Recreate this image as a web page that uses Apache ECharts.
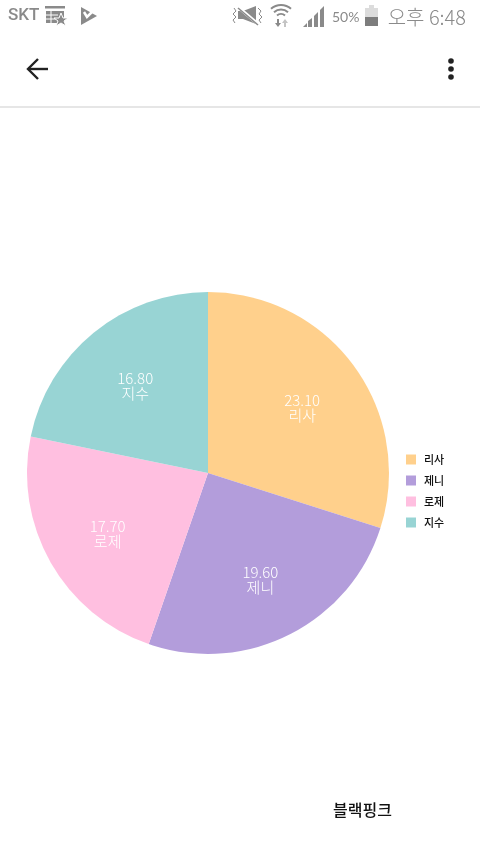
<!DOCTYPE html>
<html><head><meta charset="utf-8">
<style>html,body{margin:0;padding:0;background:#fff}#c{width:480px;height:853px}</style>
<script src="https://cdn.jsdelivr.net/npm/echarts@6/dist/echarts.min.js"></script></head>
<body><div id="c"></div>
<script>
const categories = ['리사','제니','로제','지수'];
const values = [23.10,19.60,17.70,16.80];
const colors = ['#FFD08C','#B39DDB','#FFBFE0','#98D4D4'];
const titleText = '블랙핑크';
const statusLeft = 'SKT';
const statusBattery = '50%';
const statusTime = '오후 6:48';
const gray = '#8a8a8a';
const pieData = categories.map((n,i)=>({name:n,value:values[i],itemStyle:{color:colors[i]}}));
const kr = '"Noto Sans CJK KR"';
const chart = echarts.init(document.getElementById('c'),null,{renderer:'canvas'});
const icon = [
 // status bar: calendar
 {type:'rect',shape:{x:45,y:6,width:20,height:2.5},style:{fill:gray}},
 {type:'rect',shape:{x:46,y:11,width:18,height:12},style:{fill:gray}},
 {type:'line',shape:{x1:46,y1:15,x2:58,y2:15},style:{stroke:'#fff',lineWidth:1}},
 {type:'line',shape:{x1:46,y1:19,x2:56,y2:19},style:{stroke:'#fff',lineWidth:1}},
 {type:'line',shape:{x1:51,y1:11,x2:51,y2:23},style:{stroke:'#fff',lineWidth:1}},
 {type:'polygon',shape:{points:[[61,13],[63,18],[68,18],[64,21],[66,26],[61,23],[56,26],[58,21],[54,18],[59,18]]},style:{fill:gray,stroke:'#fff',lineWidth:1}},
 // flag with check
 {type:'polygon',shape:{points:[[81,7],[97,16],[81,25]]},style:{fill:gray}},
 {type:'polyline',shape:{points:[[84,12],[87,17],[96,8]]},style:{stroke:'#fff',lineWidth:2.5,fill:'none'}},
 // muted speaker
 {type:'polyline',shape:{points:[[234,8],[236,11],[233,14],[236,17],[233,20],[235,23]]},style:{stroke:gray,lineWidth:1,fill:'none'}},
 {type:'polygon',shape:{points:[[238,11],[243,11],[256,6],[256,24],[243,19],[238,19]]},style:{fill:gray}},
 {type:'line',shape:{x1:238,y1:7,x2:258,y2:24},style:{stroke:'#fff',lineWidth:3}},
 {type:'line',shape:{x1:238,y1:8,x2:258,y2:25},style:{stroke:gray,lineWidth:1.5}},
 {type:'polyline',shape:{points:[[258,8],[261,11],[259,14],[262,17],[259,20],[261,23]]},style:{stroke:gray,lineWidth:1,fill:'none'}},
 // wifi
 {type:'arc',shape:{cx:281,cy:20,r:15,startAngle:-2.3,endAngle:-0.84},style:{stroke:gray,lineWidth:2,fill:'none'}},
 {type:'arc',shape:{cx:281,cy:20,r:10.5,startAngle:-2.3,endAngle:-0.84},style:{stroke:gray,lineWidth:2,fill:'none'}},
 {type:'arc',shape:{cx:281,cy:20,r:6,startAngle:-2.3,endAngle:-0.84},style:{stroke:gray,lineWidth:2,fill:'none'}},
 {type:'polygon',shape:{points:[[277,19],[279,19],[279,23],[281,23],[278,27],[275,23],[277,23]]},style:{fill:gray}},
 {type:'polygon',shape:{points:[[285,19],[288,23],[286,23],[286,27],[284,27],[284,23],[282,23]]},style:{fill:'#c4c4c4'}},
 // signal
 {type:'polygon',shape:{points:[[303,27],[307,23],[307,27]]},style:{fill:gray}},
 {type:'polygon',shape:{points:[[308,27],[308,21],[312,18],[312,27]]},style:{fill:gray}},
 {type:'polygon',shape:{points:[[314,27],[314,16],[318,12],[318,27]]},style:{fill:gray}},
 {type:'polygon',shape:{points:[[320,27],[320,10],[324,6],[324,27]]},style:{fill:gray}},
 // battery
 {type:'rect',shape:{x:365,y:8,width:13,height:18},style:{fill:'#dcdcdc'}},
 {type:'rect',shape:{x:369,y:5,width:5,height:3},style:{fill:'#dcdcdc'}},
 {type:'rect',shape:{x:365,y:17,width:13,height:9},style:{fill:'#7d7d7d'}},
 // back arrow
 {type:'polyline',shape:{points:[[38,59],[28,69],[38,79]]},style:{stroke:'#222',lineWidth:2.4,fill:'none'}},
 {type:'line',shape:{x1:28,y1:69,x2:48,y2:69},style:{stroke:'#222',lineWidth:2.4}},
 // dots
 {type:'circle',shape:{cx:451,cy:61,r:2.8},style:{fill:'#222'}},
 {type:'circle',shape:{cx:451,cy:69,r:2.8},style:{fill:'#222'}},
 {type:'circle',shape:{cx:451,cy:77,r:2.8},style:{fill:'#222'}},
 // divider
 {type:'rect',shape:{x:0,y:106,width:480,height:2},style:{fill:'#e6e6e6'}},
 // status text
 {type:'text',style:{x:8,y:16,text:statusLeft,fill:gray,font:'500 17px Roboto',textVerticalAlign:'middle'}},
 {type:'text',style:{x:332,y:17,text:statusBattery,fill:gray,font:'400 14px Lato',textVerticalAlign:'middle'}},
 {type:'text',style:{x:466,y:17,text:statusTime,fill:gray,font:'300 20px '+kr,textAlign:'right',textVerticalAlign:'middle'}}
];
chart.setOption({
 animation:false,
 backgroundColor:'#fff',
 title:{text:titleText,left:333,top:802,itemGap:0,padding:0,textStyle:{fontFamily:kr,fontSize:16,fontWeight:500,color:'#111'}},
 legend:{orient:'vertical',left:406,top:454,padding:0,itemWidth:10,itemHeight:10,itemGap:10,icon:'rect',selectedMode:false,
  data:categories,textStyle:{fontFamily:kr,fontSize:11,fontWeight:500,color:'#111',padding:[0,0,0,3]}},
 graphic:icon,
 series:[
  {type:'pie',center:[208,473],radius:[0,181],startAngle:90,clockwise:true,silent:true,label:{show:false},labelLine:{show:false},data:pieData},
  {type:'pie',center:[208,473],radius:[45,181],startAngle:90,clockwise:true,silent:true,z:3,
   itemStyle:{color:'transparent'},labelLine:{show:false},
   label:{show:true,position:'inside',offset:[0.5,3],color:'#fff',fontFamily:kr,fontWeight:300,fontSize:15,lineHeight:15,
    formatter:p=>p.value.toFixed(2)+'\n'+p.name},
   data:categories.map((n,i)=>({name:n,value:values[i],itemStyle:{color:'transparent'}}))}
 ]
});
</script></body></html>
